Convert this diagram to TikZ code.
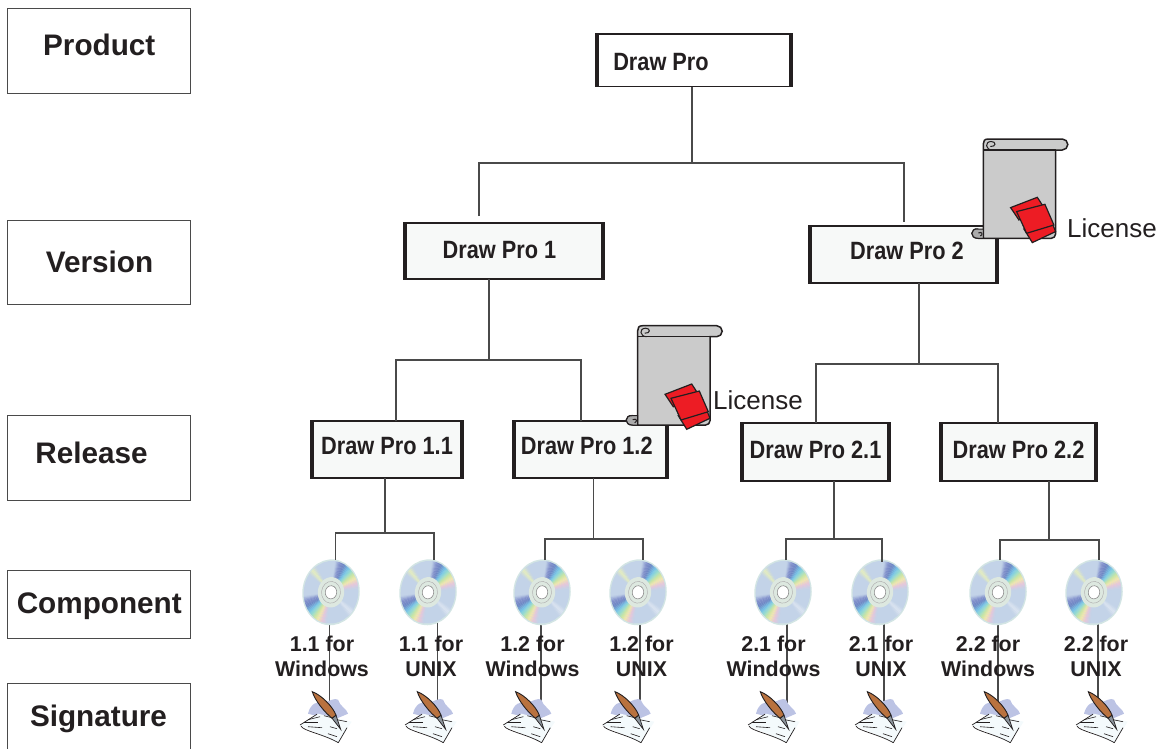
\documentclass[tikz,border=0pt]{standalone}
\usepackage{fontspec}
\setmainfont{Liberation Sans}
\newfontfamily\narrowfont[FakeStretch=0.87]{Liberation Sans}
\definecolor{figink}{HTML}{231F20}
\definecolor{figwire}{HTML}{4A4A4A}
\definecolor{figpale}{HTML}{F7F9F8}
\definecolor{figred}{HTML}{ED1C24}
\definecolor{figscroll}{HTML}{CBCBCB}
\definecolor{figcurl}{HTML}{ABABAB}
\definecolor{cdbase}{HTML}{C3D3E8}
\definecolor{cdrim}{HTML}{D3E5E4}
\definecolor{cdhub}{HTML}{DDE8E0}
\definecolor{cdindigo}{HTML}{8391CC}
\definecolor{cdblue}{HTML}{6F86C4}
\definecolor{cdcyan}{HTML}{78C6E8}
\definecolor{cdmint}{HTML}{98DDCF}
\definecolor{cdlime}{HTML}{CDE7A0}
\definecolor{cdcream}{HTML}{F2E8AE}
\definecolor{cdpink}{HTML}{E8C6DA}
\definecolor{cdpale}{HTML}{E6EEBE}
\definecolor{cdsoft}{HTML}{DCE5F1}
\definecolor{figblob}{HTML}{BCC3E4}
\definecolor{figbrown}{HTML}{B9723F}
\definecolor{fignib}{HTML}{8C949C}
\definecolor{figpaper}{HTML}{F4FAFC}
\tikzset{
  levelbox/.style={draw=figwire,line width=0.9pt,fill=white,minimum width=183pt,inner sep=0pt,outer sep=0pt,
    text=figink,text height=30pt,font=\bfseries\fontsize{29.7}{34}\selectfont},
  itembox/.style={draw=figink,line width=1.3pt,fill=figpale,inner sep=0pt,outer sep=0pt,text=figink,text height=30pt,
    font=\narrowfont\bfseries\fontsize{25}{30}\selectfont,
    path picture={\draw[figink,line width=5.5pt] (path picture bounding box.north west)--(path picture bounding box.south west)
      (path picture bounding box.north east)--(path picture bounding box.south east);}},
  wire/.style={figwire,line width=1.15pt},
  licensetext/.style={anchor=base west,inner sep=0pt,text=figink,font=\fontsize{26}{30}\selectfont},
  cdtext/.style={align=center,inner sep=0pt,text=figink,font=\bfseries\fontsize{21.4}{25}\selectfont},
  cdrom/.pic={
    \begin{scope}[x=28.7pt,y=33pt,rotate=-6]
      \fill[cdrim] (0,0) circle (1);
      \fill[cdbase] (0,0) circle (0.95);
      \foreach \a/\b/\c/\d in {88/78/cdbase/cdindigo,78/68/cdindigo/cdblue,68/56/cdblue/cdcyan,56/48/cdcyan/cdmint,
        48/40/cdmint/cdlime,40/32/cdlime/cdcream,32/22/cdcream/cdpink,22/12/cdpink/cdbase,
        192/202/cdbase/cdindigo,202/212/cdindigo/cdblue,212/224/cdblue/cdcyan,224/232/cdcyan/cdmint,
        232/240/cdmint/cdlime,240/248/cdlime/cdcream,248/258/cdcream/cdpink,258/268/cdpink/cdbase,
        150/140/cdbase/cdpale,140/130/cdpale/cdbase,-25/-35/cdbase/cdsoft,-35/-45/cdsoft/cdbase} {
        \foreach \p in {0,25,50,75} {
          \pgfmathsetmacro{\from}{\a+(\b-\a)*\p/100}
          \pgfmathsetmacro{\upto}{\a+(\b-\a)*(\p+27)/100}
          \pgfmathtruncatemacro{\mixa}{100-\p-12}
          \fill[\c!\mixa!\d] (\from:0.35)--(\from:0.95)--(\upto:0.95)--(\upto:0.35)--cycle;
        }
      }
      \fill[cdhub] (0,0) circle (0.46);
      \draw[black!30,line width=0.5pt] (0,0) circle (0.33);
      \fill[white,draw=black!45,line width=0.6pt] (0,0) circle (0.2);
    \end{scope}
  },
  scrollsheet/.pic={
    \draw[figink,line width=1.5pt,fill=figscroll] (-5,90)
      .. controls (-13,89) and (-14,99.3) .. (-5,99.3)--(68,99.3) arc[start angle=90,end angle=0,radius=4.3]
      -- (72.4,11) -- (79,11) arc[start angle=90,end angle=-90,radius=5.5] -- (5,0)
      .. controls (1,0) and (0,2) .. (0,5) -- (0,99.3);
    \fill[figcurl,draw=figink,line width=1pt] (0,90) -- (-5,90) .. controls (-13,89) and (-14,99.3) .. (-5,99.3) -- (0,99.3) -- cycle;
    \draw[figink,line width=1pt] (-3,97) .. controls (0,96) and (-1,92) .. (-5,94);
    \draw[figink,line width=1.3pt] (0,11) -- (72.4,11);
    \draw[figink,line width=1pt] (9,11) .. controls (2,11) and (1,2.5) .. (8,2.5) .. controls (13,2.5) and (13,8) .. (7,7.5);
    \draw[figink,line width=1.2pt,fill=figred] (27.3,68.6)--(54,58.3)--(59,66)--(35.6,81)--cycle;
    \draw[figink,line width=1.2pt,fill=figred] (40.6,90)--(69,84.3)--(72.3,92.6)--(49,103.6)--cycle;
    \draw[figink,line width=1.2pt,fill=figred] (33.3,72.6)--(61.6,65.3)--(70.6,86)--(43.3,94.3)--cycle;
  },
  quillsheet/.pic={
    \fill[figblob] (-17,-3) .. controls (-15,-12) and (-8,-17) .. (-2,-13) .. controls (4,-16) and (10,-19) .. (13,-17)
      .. controls (15,-10) and (22,-8) .. (23,-3) .. controls (16,0) and (10,3) .. (6,3) -- cycle;
    \fill[figpaper] (-25,8.3)--(-7,-3)--(26.7,5)--(13.3,26)--cycle;
    \draw[figink,line width=0.7pt] (-25,8.3)--(-8,-2.5) (-24,9.5) .. controls (-22,14) and (0,18) .. (13.3,26) (13.3,26)--(22,11);
    \foreach \xa/\ya/\xb/\yb in {-17/3/-5/0,-21/6/-7/6,-17/10/-3/11,-1/-1/7/1,3/17/12/20,12/3/22/5,5/10/12/12} {
      \draw[figink,line width=0.6pt] (\xa,\ya)--(\xb,\yb);
    }
    \draw[figink,line width=0.7pt,fill=fignib] (7,1.5)--(15.7,12.7)--(11,-1.5)--cycle;
    \draw[figink,line width=0.9pt,fill=figbrown] (-12.7,-25) .. controls (-4,-22) and (8,-10) .. (11,-1.5)
      -- (7,1.5) .. controls (0,-4) and (-10,-16) .. cycle;
  },
}
\begin{document}
\begin{tikzpicture}[x=1pt,y=-1pt]
\clip (0,0) rectangle (1161,749);
% levels on the left
\node[levelbox,minimum height=85pt,text depth=19pt] (product) at (98.5,50.5) {\rule{1.5pt}{0pt}Product};
\node[levelbox,minimum height=84pt,text depth=10pt] (version) at (98.5,262) {\rule{2pt}{0pt}Version};
\node[levelbox,minimum height=85pt,text depth=19pt] (release) at (98.5,457.5) {Release\rule{14pt}{0pt}};
\node[levelbox,minimum height=68pt,text depth=11pt] (component) at (98.5,604) {\rule{1.5pt}{0pt}Component};
\node[levelbox,minimum height=76pt,text depth=20pt] (signature) at (98.5,721) {Signature};
% the tree
\node[itembox,fill=white,minimum width=196pt,minimum height=52.5pt,text depth=10pt] (pro) at (694,60.4) {Draw Pro\rule{66pt}{0pt}};
\node[itembox,minimum width=200pt,minimum height=56pt,text depth=16pt] (pro1) at (504,251) {Draw Pro 1\rule{9pt}{0pt}};
\node[itembox,minimum width=189pt,minimum height=57pt,text depth=20.5pt] (pro2) at (903.5,254.5) {\rule{7pt}{0pt}Draw Pro 2};
\node[itembox,minimum width=152pt,minimum height=57pt,text depth=20pt] (pro11) at (387,449.5) {Draw Pro 1.1};
\node[itembox,minimum width=155pt,minimum height=57pt,text depth=20pt] (pro12) at (590.5,449.5) {Draw Pro 1.2\rule{7.5pt}{0pt}};
\node[itembox,minimum width=149pt,minimum height=58pt,text depth=18pt] (pro21) at (815.5,452) {Draw Pro 2.1};
\node[itembox,minimum width=157pt,minimum height=58pt,text depth=18pt] (pro22) at (1018.5,452) {Draw Pro 2.2};
\foreach \col/\cdx/\txtx/\lowx/\sigx/\one/\two in {
  a/331/322/329.5/325/1.1 for/Windows,b/428/431/437.7/430/1.1 for/UNIX,
  c/542/532.5/541/528.3/1.2 for/Windows,d/638/641.5/640/627.7/1.2 for/UNIX,
  e/783/773.5/787/773/2.1 for/Windows,f/880/881/884/880/2.1 for/UNIX,
  g/998/988/998/997/2.2 for/Windows,h/1094/1096/1098/1101/2.2 for/UNIX} {
  \coordinate (lowa\col) at (\lowx,622);
  \coordinate (lowb\col) at (\lowx,706);
  \draw[wire] (lowa\col)--(lowb\col);
  \pic at (\cdx,592.3) {cdrom};
  \node[cdtext] (txt\col) at (\txtx,656.7) {\one\\\two};
  \pic at (\sigx,716.7) {quillsheet};
}
\foreach \up/\jx/\jy/\lx/\ly/\rx/\ry in {
  pro/692/163/479/216/904/222,pro1/489/360/396/421/581/421,pro2/919/364/816/423/998/423,
  pro11/385/533/335.5/560/434/560,pro12/593.7/539/545/560/643/560,
  pro21/834/539/786/560/882/562,pro22/1049/540/1000/560/1099/560} {
  \coordinate (j\up) at (\jx,\jy);
  \coordinate (l\up) at (\lx,\ly);
  \coordinate (r\up) at (\rx,\ry);
  \draw[wire] (\up.south -| j\up)--(j\up);
  \draw[wire] (l\up) |- (j\up) -| (r\up);
}
\pic at (637.7,325.7) {scrollsheet};
\pic at (983.3,139) {scrollsheet};
\node[licensetext] (lic1) at (713,409) {License};
\node[licensetext] (lic2) at (1067,237) {License};
\end{tikzpicture}
\end{document}
